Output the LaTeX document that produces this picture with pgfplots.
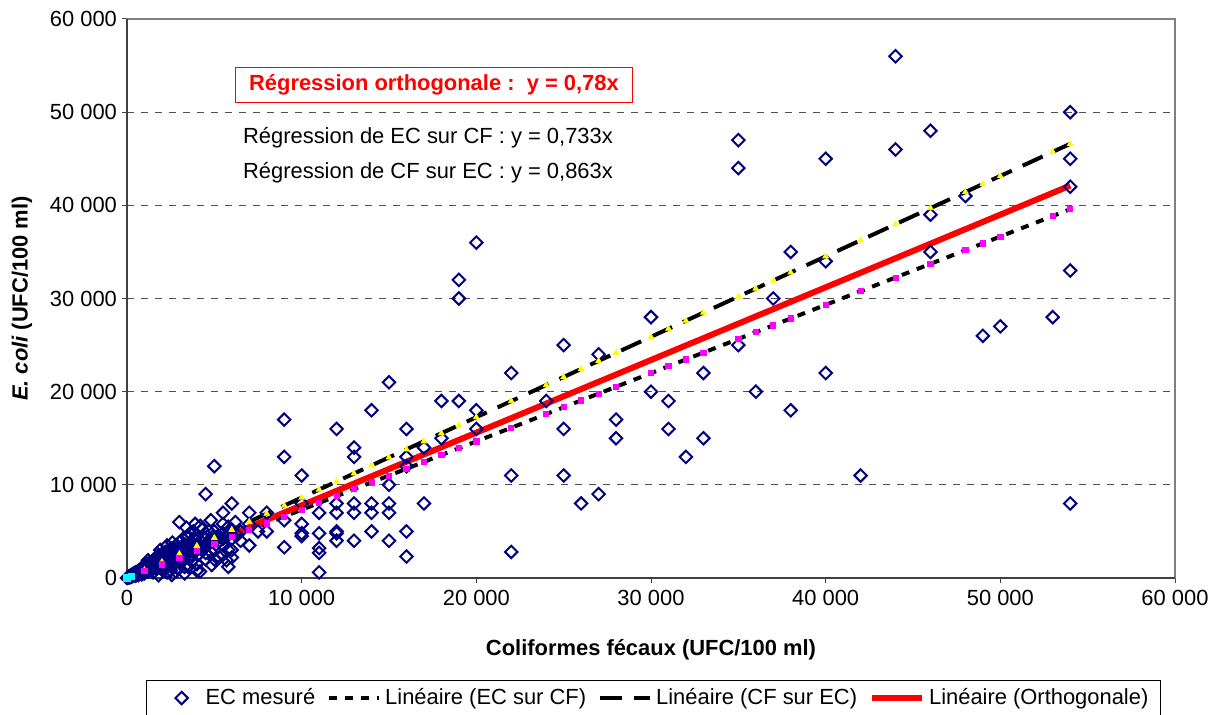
\documentclass[border=0pt]{standalone}
\usepackage{fontspec}
\setmainfont{Liberation Sans}
\usepackage{pgfplots}
\pgfplotsset{compat=1.18}

\definecolor{ecblue}{RGB}{0,0,128}
\definecolor{fityellow}{RGB}{255,255,0}
\definecolor{fitmagenta}{RGB}{255,0,255}
\definecolor{fitcyan}{RGB}{0,255,255}
\definecolor{gridgray}{RGB}{80,80,80}
\definecolor{framegray}{RGB}{128,128,128}
\definecolor{axisdark}{RGB}{64,64,64}

\pgfplotsset{
  linekey/.style={legend image code/.code={\draw[##1] (0bp,0bp) -- (25bp,0bp);}},
  markkey/.style={legend image code/.code={\path[draw=none, fill=none] (0bp,0bp) -- (23.5bp,0bp);
      \draw[##1] plot coordinates {(13.5bp,0bp)};}},
}

\begin{document}
\begin{tikzpicture}[font=\fontsize{11}{13}\selectfont]
\path[use as bounding box] (0,0) rectangle (609bp,357.5bp);
\begin{axis}[
  at={(63.5bp,68.5bp)}, anchor=south west,
  scale only axis, width=524bp, height=279.5bp,
  xmin=0, xmax=60000, ymin=0, ymax=60000,
  clip=false,
  scaled ticks=false,
  xtick={0,10000,20000,30000,40000,50000,60000},
  ytick={0,10000,20000,30000,40000,50000,60000},
  xticklabels={0,10 000,20 000,30 000,40 000,50 000,60 000},
  yticklabels={0,10 000,20 000,30 000,40 000,50 000,60 000},
  xtick pos=bottom, ytick pos=left,
  tick align=outside,
  major tick length=2.5bp,
  every tick/.style={draw=axisdark, line width=0.5bp},
  tick label style={font=\fontsize{11}{13}\selectfont, text=black},
  yticklabel style={xshift=1bp},
  ymajorgrids=true,
  major grid style={draw=gridgray, line width=0.5bp, dash pattern=on 3.5bp off 3.5bp},
  axis line style={draw=framegray, line width=0.6bp},
  xlabel={\bfseries Coliformes fécaux (UFC/100 ml)},
  ylabel={{\bfseries\itshape E. coli} {\bfseries (UFC/100 ml)}},
  xlabel style={at={(axis description cs:0.5,-0.1288)}, anchor=center, font=\fontsize{11}{13}\selectfont},
  ylabel style={at={(axis description cs:-0.1002,0.5)}, anchor=center, font=\fontsize{11}{13}\selectfont},
  legend columns=4,
  legend style={at={(0.5024,-0.2147)}, anchor=center, draw=black, line width=0.5bp,
    font=\fontsize{11}{13}\selectfont, inner xsep=4bp, inner ysep=2bp,
    /tikz/every even column/.append style={column sep=4bp}},
  legend cell align=left,
]

% measured E. coli versus faecal coliforms
\addplot[markkey, only marks, mark=square, mark size=2.2bp, mark options={rotate=45, draw=ecblue, line width=1bp, fill=none}]
coordinates {
(54000,50000)(54000,45000)(54000,42000)(54000,33000)(54000,8000)
(53000,28000)(50000,27000)(49000,26000)(48000,41000)
(46000,48000)(46000,39000)(46000,35000)
(44000,56000)(44000,46000)(42000,11000)
(40000,45000)(40000,34000)(40000,22000)
(38000,35000)(38000,18000)(37000,30000)(36000,20000)
(35000,47000)(35000,44000)(35000,25000)
(33000,22000)(33000,15000)(32000,13000)
(31000,19000)(31000,16000)(30000,28000)(30000,20000)
(28000,17000)(28000,15000)(27000,24000)(27000,9000)(26000,8000)
(25000,25000)(25000,16000)(25000,11000)(24000,19000)
(22000,22000)(22000,11000)(22000,2800)
(20000,36000)(20000,18000)(20000,16000)
(19000,32000)(19000,30000)(19000,19000)
(18000,19000)(18000,15000)
(17000,14000)(17000,8000)
(16000,16000)(16000,13000)(16000,12000)(16000,5000)(16000,2300)
(15000,21000)(15000,10000)(15000,8000)(15000,7000)(15000,4000)
(14000,18000)(14000,8000)(14000,7000)(14000,5000)
(13000,14000)(13000,13000)(13000,8000)(13000,7000)(13000,4000)
(12000,16000)(12000,8000)(12000,7000)(12000,5000)(12000,4800)(12000,4000)
(11000,7000)(11000,4800)(11000,3200)(11000,2700)(11000,600)
(10000,11000)(10000,8000)(10000,5800)(10000,4800)(10000,4500)
(9000,17000)(9000,13000)(9000,6200)(9000,3300)
(8000,7000)(8000,5000)(7500,5000)
(7000,7000)(7000,5800)(7000,3500)(6500,4000)(6500,5000)
(6300,4600)(6200,6000)(6000,8000)(6000,4200)(6000,5200)(6000,3000)(6000,2200)
(5900,4800)(5800,1200)(5800,3000)(5800,5500)(5700,1900)(5700,4500)
(5500,7000)(5500,3500)(5500,4800)(5500,4200)(5500,2500)(5500,5800)
(5300,2200)(5300,4000)(5200,4500)(5100,3600)
(5000,12000)(5000,4000)(5000,5000)(5000,3000)(5000,2000)
(4900,4400)(4850,1400)(4800,2800)(4800,6200)(4700,5000)(4700,4000)
(4600,3500)(4500,9000)(4500,4200)(4500,2000)(4500,3300)(4500,2700)
(4400,4400)(4300,5200)(4300,3000)(4200,4000)(4200,3300)(4200,5600)(4180,700)
(4100,2500)(4000,3500)(4000,4600)(4000,1500)(4000,3000)(4000,800)
(3900,4200)(3900,5800)(3800,5000)(3800,2800)(3800,3400)(3700,3800)(3700,2500)(3700,1800)
(3600,2200)(3600,3800)(3600,4800)(3500,4500)(3500,3300)(3500,1200)(3500,2600)
(3400,2700)(3400,3200)(3400,5400)(3300,2000)(3300,500)(3300,3600)(3300,1200)
(3200,3000)(3200,4200)(3200,2200)(3100,3300)(3100,2500)
(3000,6000)(3000,2600)(3000,3800)(3000,1700)(3000,2200)
(2900,1100)(2900,2800)(2900,3300)(2800,3500)(2800,2200)(2800,1900)(2800,700)
(2700,1500)(2700,2600)(2700,3100)(2600,2400)(2600,2900)(2600,1800)(2600,3800)(2560,320)
(2500,3200)(2500,1800)(2500,800)(2500,2300)(2450,2000)(2400,2200)(2400,2700)
(2350,1700)(2300,1300)(2300,2100)(2300,600)(2300,3500)(2250,2500)
(2200,2000)(2200,2800)(2200,1500)(2150,1800)(2100,1500)(2100,2300)(2050,1300)
(2000,1700)(2000,2600)(2000,900)(2000,2000)(1950,1500)(1900,1200)(1900,2100)(1900,3000)
(1850,1700)(1800,1500)(1800,2500)(1800,300)(1800,1200)(1750,1900)
(1700,2200)(1700,1000)(1700,1600)(1650,1200)(1600,1400)(1600,1800)(1550,1300)
(1500,1900)(1500,1200)(1500,600)(1500,1500)(1450,1100)
(1400,800)(1400,1300)(1400,1600)(1350,900)(1300,1700)(1300,1100)(1300,1400)(1250,1000)
(1200,1000)(1200,700)(1200,1300)(1200,1900)(1150,800)
(1100,900)(1100,1500)(1100,1100)(1050,1200)(1000,800)(1000,1300)(1000,500)(1000,1000)
(950,700)(900,700)(900,1100)(900,900)(850,400)(850,1000)(800,600)(800,1000)(800,800)
(750,900)(750,600)(700,800)(700,500)(700,650)(650,300)(650,750)
(600,700)(600,450)(600,600)(550,420)(500,600)(500,400)(500,250)(500,500)(450,350)(450,550)
(400,300)(400,500)(400,420)(350,400)(350,250)(300,300)(300,200)(300,380)(250,150)(250,300)
(200,180)(200,250)(200,120)(150,100)(150,200)(100,80)(100,150)(100,100)(50,40)(0,0)
};
\addlegendentry{EC mesuré}

% fitted values under the regression lines
\addplot[forget plot, only marks, mark=triangle*, mark size=1.6bp, mark options={fill=fityellow, draw=fityellow}]
coordinates {
(1000,863)(2000,1726)(3000,2589)(4000,3452)(5000,4315)(6000,5178)(7000,6041)
(8000,6904)(9000,7767)(10000,8630)(11000,9493)(12000,10356)(13000,11219)
(14000,12082)(15000,12945)(16000,13808)(17000,14671)(18000,15534)(19000,16397)
(20000,17260)(22000,18986)(24000,20712)(25000,21575)(26000,22438)(27000,23301)
(28000,24164)(30000,25890)(31000,26753)(32000,27616)(33000,28479)(35000,30205)
(36000,31068)(37000,31931)(38000,32794)(40000,34520)(42000,36246)(44000,37972)
(46000,39698)(48000,41424)(49000,42287)(50000,43150)(53000,45739)(54000,46602)
};
\addplot[forget plot, only marks, mark=square*, mark size=1.3bp, mark options={fill=fitmagenta, draw=fitmagenta}]
coordinates {
(1000,733)(2000,1466)(3000,2199)(4000,2932)(5000,3665)(6000,4398)(7000,5131)
(8000,5864)(9000,6597)(10000,7330)(11000,8063)(12000,8796)(13000,9529)
(14000,10262)(15000,10995)(16000,11728)(17000,12461)(18000,13194)(19000,13927)
(20000,14660)(22000,16126)(24000,17592)(25000,18325)(26000,19058)(27000,19791)
(28000,20524)(30000,21990)(31000,22723)(32000,23456)(33000,24189)(35000,25655)
(36000,26388)(37000,27121)(38000,27854)(40000,29320)(42000,30786)(44000,32252)
(46000,33718)(48000,35184)(49000,35917)(50000,36650)(53000,38849)(54000,39582)
};
\addplot[forget plot, only marks, mark=square*, mark size=1.6bp, mark options={fill=fitcyan, draw=fitcyan}]
coordinates {(0,0)(250,195)};

% regression lines
\addplot[linekey, draw=black, line width=2bp, dash pattern=on 4bp off 4bp]
coordinates {(0,0)(54000,39582)};
\addlegendentry{Linéaire (EC sur CF)}
\addplot[linekey, draw=black, line width=2bp, dash pattern=on 11bp off 6bp]
coordinates {(0,0)(54000,46602)};
\addlegendentry{Linéaire (CF sur EC)}
\addplot[linekey, draw=red, line width=3bp]
coordinates {(0,0)(54000,42120)};
\addlegendentry{Linéaire (Orthogonale)}

% darker left and bottom axis lines
\draw[axisdark, line width=0.7bp] (rel axis cs:0,1) -- (rel axis cs:0,0) -- (rel axis cs:1,0);

% equations of the three fits
\node[draw=red, line width=0.5bp, text=red, font=\bfseries\fontsize{11}{13}\selectfont,
      inner xsep=7bp, inner ysep=3.5bp, fill=white]
  at (rel axis cs:0.2929,0.8819) {Régression orthogonale :\ \ y = 0,78x};
\node[font=\fontsize{11}{13}\selectfont] at (rel axis cs:0.2872,0.7871) {Régression de EC sur CF : y = 0,733x};
\node[font=\fontsize{11}{13}\selectfont] at (rel axis cs:0.2872,0.7245) {Régression de CF sur EC : y = 0,863x};
\end{axis}
\end{tikzpicture}
\end{document}
